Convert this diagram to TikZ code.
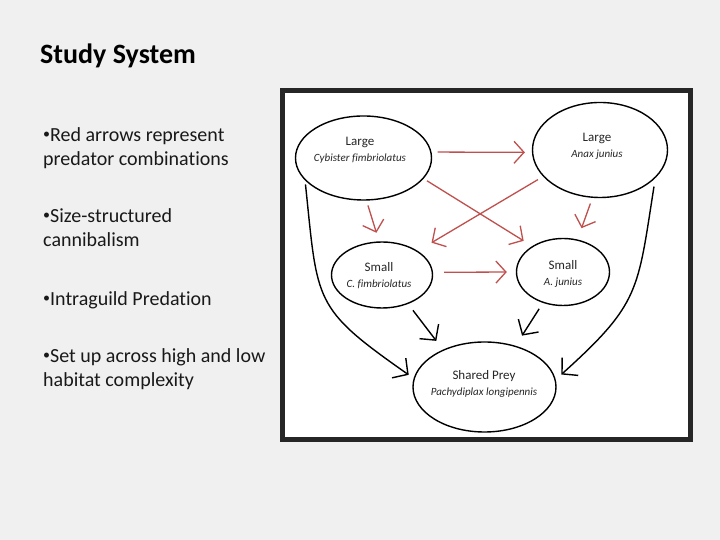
\documentclass[tikz,border=0pt]{standalone}
\usepackage{fontspec}
\setmainfont{Carlito}[Ligatures=NoCommon]
\usetikzlibrary{arrows.meta, shapes.geometric}

\definecolor{slidebg}{RGB}{240,240,240}
\definecolor{predred}{RGB}{192,80,77}
\newcommand{\smallbul}{\raisebox{3pt}{\fontsize{14}{14}\selectfont•}}

\begin{document}
\begin{tikzpicture}[
    x=1pt, y=1pt, % one unit per pixel of the slide
    species/.style={draw, ellipse, line width=1.4pt, fill=white, inner sep=0pt}, % Style for the animals
    sptext/.style={align=center, inner sep=0pt, text=black!85, font=\fontsize{13}{16}\selectfont},
    point/.style={anchor=base west, align=left, inner sep=0pt, text=black!90, font=\fontsize{20}{24}\selectfont},
    red arrow/.style={draw=predred, line width=1.3pt, -{Straight Barb[length=10pt, width=22pt]}},
    prey arrow/.style={draw=black, line width=1.4pt, -{Straight Barb[length=11pt, width=24pt]}}
]

% Slide background
\fill[slidebg] (0, 0) rectangle (720, 540);
\useasboundingbox (0, 0) rectangle (720, 540);

% Title and bullet points (base = last line)
\node[anchor=base west, inner sep=0pt, font=\fontsize{28}{32}\selectfont\bfseries] (title) at (40, 476) {Study System};
\node[point] (p1) at (43, 374) {\smallbul Red arrows represent\\predator combinations};
\node[point] (p2) at (43, 293) {\smallbul Size-structured\\cannibalism};
\node[point] (p3) at (43, 234) {\smallbul Intraguild Predation};
\node[point] (p4) at (43, 153) {\smallbul Set up across high and low\\habitat complexity};

% Frame of the diagram
\draw[line width=5pt, draw=black!85, fill=white] (282.5, 449.5) rectangle (690, 100);

% Species (ellipses)
\node[species, minimum width=136pt, minimum height=84pt] (lc) at (363.5, 382) {};
\node[species, minimum width=135pt, minimum height=95pt] (la) at (600, 390) {};
\node[species, minimum width=101pt, minimum height=66pt] (sc) at (382, 265) {};
\node[species, minimum width=93pt, minimum height=67pt] (sa) at (563, 268) {};
\node[species, minimum width=143pt, minimum height=90pt] (sp) at (484.5, 153) {};

% Names inside the ellipses
\node[sptext] (lc-t) at (360, 390) {Large\\{\fontsize{11}{16}\selectfont\itshape Cybister fimbriolatus}};
\node[sptext] (la-t) at (597, 393.5) {Large\\{\fontsize{11}{16}\selectfont\itshape Anax junius}};
\node[sptext] (sc-t) at (379, 264.5) {Small\\{\fontsize{11}{16}\selectfont\itshape C. fimbriolatus}};
\node[sptext] (sa-t) at (563, 266.5) {Small\\{\fontsize{11}{16}\selectfont\itshape A. junius}};
\node[sptext] (sp-t) at (484, 156) {Shared Prey\\{\fontsize{11}{16}\selectfont\itshape Pachydiplax longipennis}};

% Predator combinations (red)
\draw[red arrow, shorten <=6pt, shorten >=7pt] (lc.5) -- (la.182);
\draw[red arrow, shorten <=4pt, shorten >=10pt] (lc.-19) -- (sa.140);
\draw[red arrow, shorten <=6pt, shorten >=16pt] (la.205) -- (sc.34.5);
\draw[red arrow, shorten <=5pt, shorten >=9pt] (lc.-86) -- (sc.95);
\draw[red arrow, shorten <=6pt, shorten >=12pt] (la.-99) -- (sa.66);
\draw[red arrow, shorten <=11pt, shorten >=9pt] (sc.3) -- (sa.180);

% Everyone eats the shared prey (black)
\draw[prey arrow, shorten <=8pt, shorten >=11pt] (sc.-48) -- (sp.138);
\draw[prey arrow, shorten <=7pt, shorten >=12pt] (sa.-123) -- (sp.53);
\draw[prey arrow, shorten <=4pt, shorten >=6pt] (lc.201) to[out=-84, in=145, looseness=1.4] (sp.173);
\draw[prey arrow, shorten <=8.5pt, shorten >=7.5pt] (la.-27) to[out=-99, in=42, looseness=1.3] (sp.6.5);

\end{tikzpicture}
\end{document}
